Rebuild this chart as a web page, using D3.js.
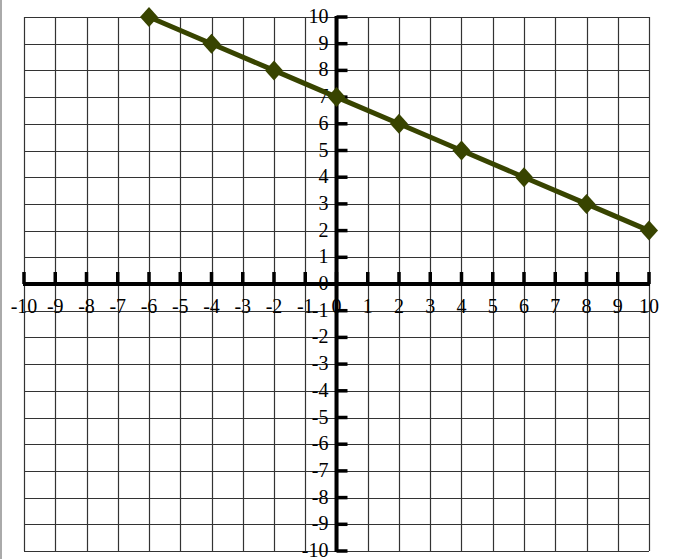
<!DOCTYPE html>
<html>
<head>
<meta charset="utf-8">
<script src="https://cdn.jsdelivr.net/npm/d3@7"></script>
<style>
  body { margin: 0; background: #fff; }
  svg { display: block; }
</style>
</head>
<body>
<div id="chart"></div>
<script>
document.addEventListener("DOMContentLoaded", function () {
    // data
    const xValues = [-6, -4, -2, 0, 2, 4, 6, 8, 10];
    const yValues = [10, 9, 8, 7, 6, 5, 4, 3, 2];
    const tickValues = d3.range(-10, 11);

    const width = 674, height = 559;
    const lineColor = "#384400";

    const svg = d3.select("#chart")
        .append("svg")
        .attr("width", width)
        .attr("height", height);

    svg.append("rect")
        .attr("width", width)
        .attr("height", height)
        .attr("fill", "#fff");

    // grey left border
    svg.append("rect")
        .attr("x", 0).attr("y", 0)
        .attr("width", 2).attr("height", height)
        .attr("fill", "#aaaaaa");

    const x = d3.scaleLinear().domain([-10, 10]).range([24, 649]);
    const y = d3.scaleLinear().domain([-10, 10]).range([551, 17]);

    // grid
    const grid = svg.append("g");
    grid.selectAll(".vgrid")
        .data(tickValues)
        .enter().append("line")
        .attr("x1", d => Math.round(x(d)) + 0.5)
        .attr("x2", d => Math.round(x(d)) + 0.5)
        .attr("y1", y(10))
        .attr("y2", y(-10))
        .attr("stroke", "#333")
        .attr("stroke-width", 1.2);
    grid.selectAll(".hgrid")
        .data(tickValues)
        .enter().append("line")
        .attr("y1", d => Math.round(y(d)) + 0.5)
        .attr("y2", d => Math.round(y(d)) + 0.5)
        .attr("x1", x(-10))
        .attr("x2", x(10))
        .attr("stroke", "#333")
        .attr("stroke-width", 1.2);

    // x axis
    const x0 = x(0), y0 = y(0);
    svg.append("line")
        .attr("x1", x(-10) - 1).attr("x2", x(10) + 1)
        .attr("y1", y0).attr("y2", y0)
        .attr("stroke", "#000").attr("stroke-width", 4);
    svg.selectAll(".xtick")
        .data(tickValues)
        .enter().append("line")
        .attr("x1", d => x(d)).attr("x2", d => x(d))
        .attr("y1", y0 - 12).attr("y2", y0)
        .attr("stroke", "#000").attr("stroke-width", 3.5);

    // y axis
    svg.append("line")
        .attr("x1", x0).attr("x2", x0)
        .attr("y1", y(10) - 1).attr("y2", y(-10) + 1)
        .attr("stroke", "#000").attr("stroke-width", 4);
    svg.selectAll(".ytick")
        .data(tickValues)
        .enter().append("line")
        .attr("x1", x0).attr("x2", x0 + 11)
        .attr("y1", d => y(d)).attr("y2", d => y(d))
        .attr("stroke", "#000").attr("stroke-width", 3.5);

    // labels
    svg.selectAll(".xlabel")
        .data(tickValues)
        .enter().append("text")
        .attr("x", d => x(d))
        .attr("y", y0 + 29)
        .attr("text-anchor", "middle")
        .style("font-family", "'Liberation Serif', serif")
        .style("font-size", "20px")
        .attr("fill", "#000")
        .text(d => d);

    svg.selectAll(".ylabel")
        .data(tickValues)
        .enter().append("text")
        .attr("x", x0 - 8)
        .attr("y", d => y(d) + 6)
        .attr("text-anchor", "end")
        .style("font-family", "'Liberation Serif', serif")
        .style("font-size", "20px")
        .attr("fill", "#000")
        .text(d => d);

    // series
    const points = xValues.map((v, i) => [v, yValues[i]]);
    svg.append("path")
        .datum(points)
        .attr("fill", "none")
        .attr("stroke", lineColor)
        .attr("stroke-width", 5)
        .attr("stroke-linejoin", "round")
        .attr("d", d3.line().x(d => x(d[0])).y(d => y(d[1])));

    svg.selectAll(".marker")
        .data(points)
        .enter().append("path")
        .attr("transform", d => `translate(${x(d[0])},${y(d[1])})`)
        .attr("d", "M0,-10L9,0L0,10L-9,0Z")
        .attr("fill", lineColor);
});
</script>
</body>
</html>
